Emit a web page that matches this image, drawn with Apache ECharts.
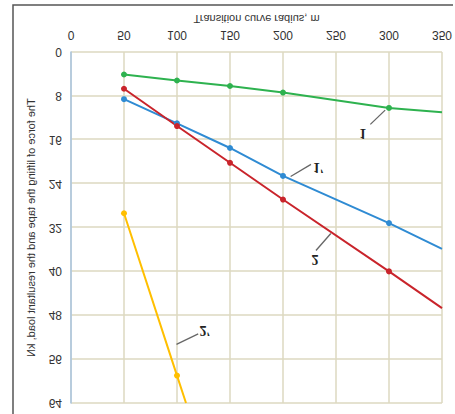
<!DOCTYPE html>
<html>
<head>
<meta charset="utf-8">
<script src="https://cdn.jsdelivr.net/npm/echarts@6/dist/echarts.min.js"></script>
<style>
html,body{margin:0;padding:0;background:#fff;}
#c{width:455px;height:414px;transform:scaleY(-1);transform-origin:50% 50%;}
</style>
</head>
<body>
<div id="c"></div>
<script>
// Data (the reference picture is a vertically mirrored chart)
var xTicks = [0, 50, 100, 150, 200, 250, 300, 350];
var yTicks = [0, 8, 16, 24, 32, 40, 48, 56, 64];
var xName = 'Transition curve radius, m';
var yName = 'The force of lifting the tape and the resultant load, kN';

var greenX = [50, 100, 150, 200, 300, 350];
var greenY = [4.1, 5.2, 6.2, 7.4, 10.2, 11.0];
var blueX = [50, 100, 150, 200, 300, 350];
var blueY = [8.6, 13.0, 17.5, 22.6, 31.2, 35.9];
var redX = [50, 100, 150, 200, 300, 350];
var redY = [6.7, 13.5, 20.2, 26.9, 40.0, 46.7];
var yellowX = [50, 100, 108.5];
var yellowY = [29.4, 59.0, 64];

var labelsText = ['1', '1\u2032', '2', '2\u2032'];

function build(xs, ys) {
  return xs.map(function (x, i) {
    var p = { value: [x, ys[i]] };
    if (i === xs.length - 1) p.symbol = 'none';
    return p;
  });
}

function series(name, xs, ys, color, lead, labelPos, text) {
  return {
    name: name, type: 'line', data: build(xs, ys),
    symbol: 'circle', symbolSize: 6, showSymbol: true,
    lineStyle: { color: color, width: 2 },
    itemStyle: { color: color },
    clip: true, z: 3,
    markLine: {
      silent: true, symbol: 'none',
      lineStyle: { color: '#666', width: 1.3, type: 'solid' },
      label: { show: false },
      data: [[{ coord: lead[0] }, { coord: lead[1] }]]
    },
    markPoint: {
      silent: true, symbol: 'circle', symbolSize: 0,
      label: { show: true, position: 'inside', formatter: text,
        fontFamily: 'Liberation Serif', fontSize: 14, fontWeight: 'bold', color: '#222' },
      data: [{ coord: labelPos }]
    }
  };
}

var chart = echarts.init(document.getElementById('c'), null, { renderer: 'svg' });
var gridColor = '#ddd8c0';
chart.setOption({
  animation: false,
  backgroundColor: '#fff',
  textStyle: { fontFamily: 'Liberation Sans' },
  grid: { left: 71, right: 10, top: 11, bottom: 52, containLabel: false },
  xAxis: {
    type: 'value', min: xTicks[0], max: xTicks[xTicks.length - 1], interval: 50,
    name: xName, nameLocation: 'middle', nameGap: 27,
    nameTextStyle: { fontSize: 11, color: '#333' },
    axisLine: { show: false }, axisTick: { show: false },
    axisLabel: { fontSize: 12, color: '#333', margin: 11 },
    splitLine: { show: true, lineStyle: { color: gridColor, width: 1.5 } }
  },
  yAxis: {
    type: 'value', min: yTicks[0], max: yTicks[yTicks.length - 1], interval: 8,
    name: yName, nameLocation: 'middle', nameGap: 35,
    nameTextStyle: { fontSize: 11, color: '#333' },
    axisLine: { show: true, lineStyle: { color: '#a9c4e2', width: 1.5 } }, axisTick: { show: false },
    axisLabel: { fontSize: 12, color: '#333', margin: 9 },
    splitLine: { show: true, lineStyle: { color: gridColor, width: 1.5 } }
  },
  graphic: [{
    type: 'polyline', silent: true,
    shape: { points: [[13, 0], [13, 409], [453, 409]] },
    style: { stroke: '#555', lineWidth: 1.5, fill: null }
  }],
  series: [
    series('green', greenX, greenY, '#2eb24f', [[282.4, 13.2], [296.4, 10.6]], [275.3, 14.8], labelsText[0]),
    series('blue', blueX, blueY, '#2f8bd3', [[207.2, 22.7], [226.4, 20.5]], [233.5, 21.0], labelsText[1]),
    series('red', redX, redY, '#c9242b', [[231.1, 36.2], [245.1, 33.1]], [230.2, 37.9], labelsText[2]),
    series('yellow', yellowX, yellowY, '#ffbf00', [[99.5, 53.3], [120, 51.4]], [126.5, 50.8], labelsText[3])
  ]
});
</script>
</body>
</html>
